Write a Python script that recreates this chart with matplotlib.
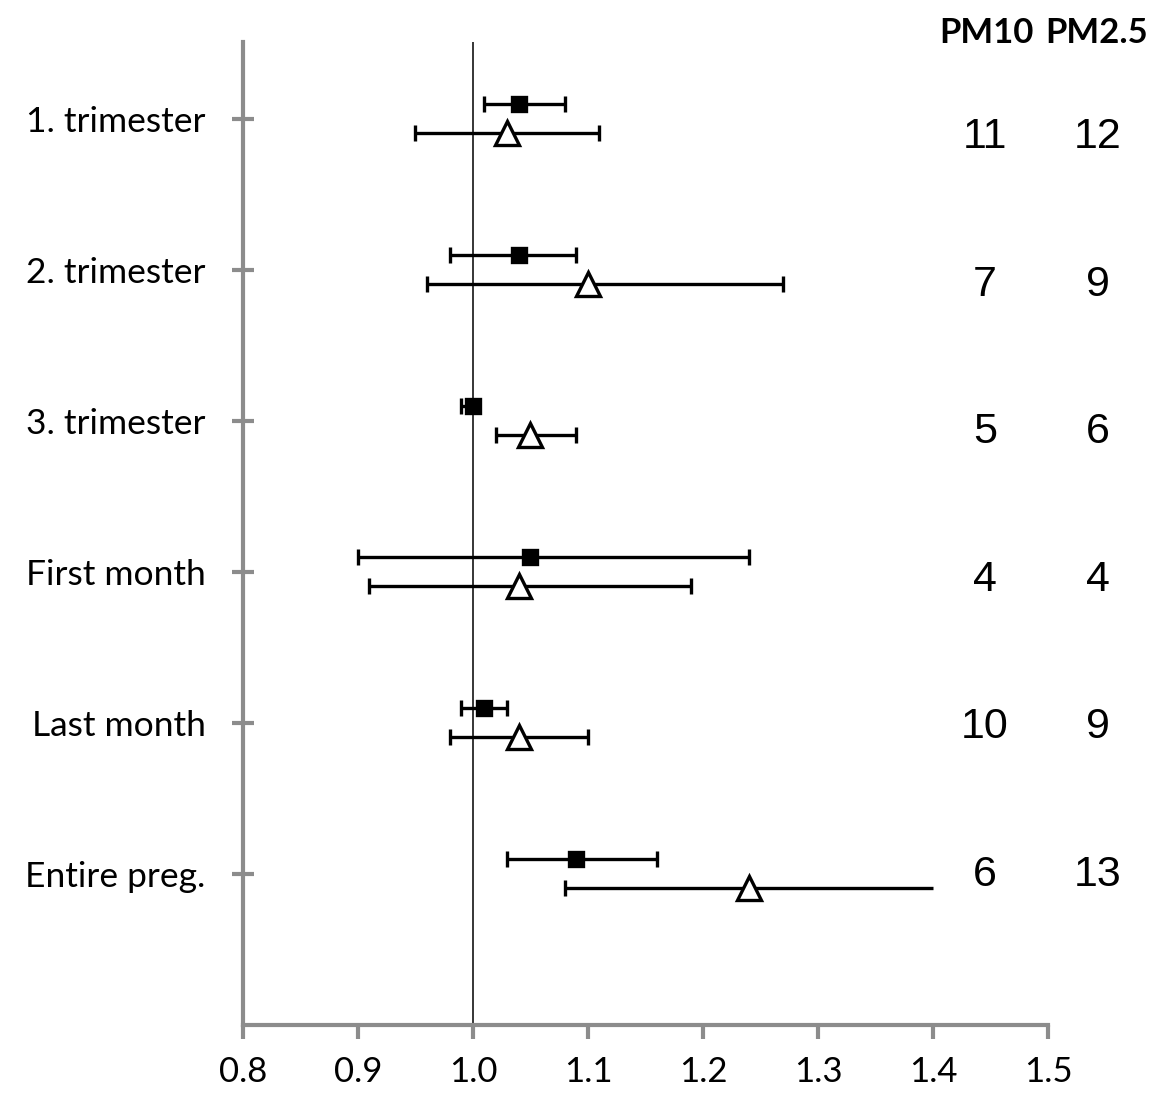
import numpy as np
import matplotlib.pyplot as plt

#########################
# Data (odds ratios with 95% CI)
periods = ["1. trimester", "2. trimester", "3. trimester",
           "First month", "Last month", "Entire preg."]
pm10_or = [1.04, 1.04, 1.00, 1.05, 1.01, 1.09]
pm10_lo = [1.01, 0.98, 0.99, 0.90, 0.99, 1.03]
pm10_hi = [1.08, 1.09, 1.00, 1.24, 1.03, 1.16]
pm25_or = [1.03, 1.10, 1.05, 1.04, 1.04, 1.24]
pm25_lo = [0.95, 0.96, 1.02, 0.91, 0.98, 1.08]
pm25_hi = [1.11, 1.27, 1.09, 1.19, 1.10, 1.40]
pm25_hi_open = [False, False, False, False, False, True]  # CI runs off, no cap
n_pm10 = [11, 7, 5, 4, 10, 6]
n_pm25 = [12, 9, 6, 4, 9, 13]
xticks = [0.8, 0.9, 1.0, 1.1, 1.2, 1.3, 1.4, 1.5]
#########################

W, H = 1156, 1097
fig = plt.figure(figsize=(W / 100, H / 100), dpi=100)
ax = fig.add_axes([243 / W, 1 - 1025 / H, (1048 - 243) / W, (1025 - 42) / H])

grey = "#8c8c8c"
ypos = np.arange(1, len(periods) + 1)
y10 = ypos - 0.1
y25 = ypos + 0.09

def draw_ci(y, est, lo, hi, open_hi, marker, ms, face):
    est = np.array(est); lo = np.array(lo); hi = np.array(hi)
    ax.errorbar(est, y, xerr=[est - lo, hi - est], fmt="none",
                ecolor="black", elinewidth=2.4, capsize=0, zorder=3)
    ax.plot(lo, y, ls="none", marker="|", ms=12, mew=2.4, color="black", zorder=3)
    hi_c = [h for h, o in zip(hi, open_hi) if not o]
    y_c = [yy for yy, o in zip(y, open_hi) if not o]
    ax.plot(hi_c, y_c, ls="none", marker="|", ms=12, mew=2.4, color="black", zorder=3)
    ax.plot(est, y, ls="none", marker=marker, ms=ms, mfc=face, mec="black",
            mew=2.4, zorder=4)

draw_ci(y10, pm10_or, pm10_lo, pm10_hi, [False] * 6, "s", 9.5, "black")
draw_ci(y25, pm25_or, pm25_lo, pm25_hi, pm25_hi_open, "^", 17, "white")

ax.axvline(1.0, color="black", lw=1.1, zorder=2)

ax.set_xlim(0.8, 1.5)
ax.set_ylim(7, 0.49)
ax.set_xticks(xticks)
ax.set_xticklabels([f"{v:.1f}" for v in xticks], family="Lato", fontsize=25)
ax.set_yticks(ypos)
ax.set_yticklabels(periods, family="Lato", fontsize=25.5)
for lab in ax.get_yticklabels():
    lab.set_verticalalignment("center_baseline")

for s in ["top", "right"]:
    ax.spines[s].set_visible(False)
for s in ["left", "bottom"]:
    ax.spines[s].set_color(grey)
    ax.spines[s].set_linewidth(3)
ax.tick_params(axis="y", direction="inout", length=16, width=3, color=grey, pad=19)
ax.tick_params(axis="x", direction="out", length=10, width=3, color=grey, pad=12)

# count columns at the right
for i in range(len(periods)):
    yp = 1 - (137 + 147.6 * i) / H
    fig.text(985 / W, yp, str(n_pm10[i]), ha="center", va="center",
             fontsize=31, family="Liberation Sans")
    fig.text(1098 / W, yp, str(n_pm25[i]), ha="center", va="center",
             fontsize=31, family="Liberation Sans")
fig.text(986 / W, 1 - 33 / H, "PM10", ha="center", va="center",
         fontsize=25, fontweight="bold", family="Lato")
fig.text(1097 / W, 1 - 33 / H, "PM2.5", ha="center", va="center",
         fontsize=25, fontweight="bold", family="Lato")

fig.savefig("out.png", dpi=100)
